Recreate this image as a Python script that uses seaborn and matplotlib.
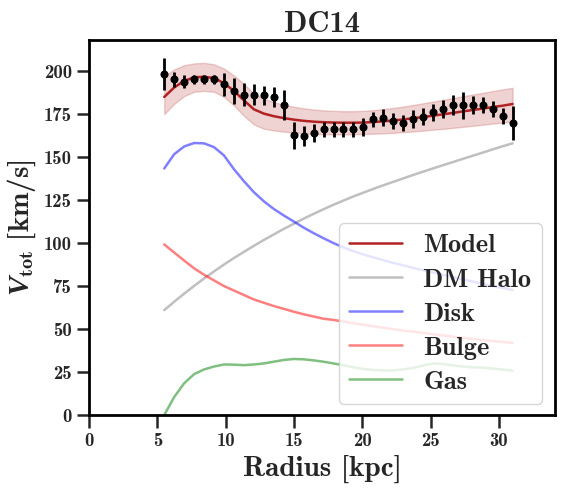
import numpy as np
import pandas as pd
import matplotlib
matplotlib.use('Agg')
import matplotlib.pyplot as plt
import seaborn as sns

radius = [5.50, 6.23, 6.96, 7.69, 8.41, 9.14, 9.87, 10.60, 11.33, 12.06,
          12.79, 13.51, 14.24, 14.97, 15.70, 16.43, 17.16, 17.89, 18.61, 19.34,
          20.07, 20.80, 21.53, 22.26, 22.99, 23.71, 24.44, 25.17, 25.90, 26.63,
          27.36, 28.09, 28.81, 29.54, 30.27, 31.00]
v_obs = [198.3, 195.3, 193.8, 195.2, 195.2, 195.2, 192.3, 188.4, 186.4, 186.4,
         186.0, 185.0, 180.2, 162.8, 162.4, 163.8, 166.1, 166.1, 166.1, 166.1,
         167.6, 171.9, 173.0, 171.1, 169.9, 172.1, 173.4, 176.0, 177.9, 180.2,
         180.2, 180.2, 180.2, 177.9, 173.8, 170.0]
v_err = [9.5, 4.4, 3.9, 2.6, 2.6, 2.6, 6.8, 7.6, 6.6, 6.0,
         5.6, 6.0, 8.7, 7.8, 5.8, 5.3, 4.5, 4.5, 4.5, 4.5,
         5.3, 4.5, 4.8, 4.6, 4.7, 5.3, 5.0, 5.0, 5.3, 5.8,
         7.8, 5.3, 4.8, 4.8, 4.6, 10.0]

# Best-fit model and its uncertainty band
v_model = [185.0, 190.5, 194.3, 196.4, 196.7, 196.0, 193.0, 188.5, 183.0, 177.8,
           175.3, 173.8, 172.7, 171.8, 171.1, 170.6, 170.3, 170.1, 170.0, 170.0,
           170.1, 170.4, 170.8, 171.3, 171.9, 172.6, 173.3, 174.1, 174.9, 175.7,
           176.6, 177.4, 178.2, 179.1, 179.9, 180.9]
v_upper = [197.0, 201.0, 203.5, 204.5, 204.8, 204.0, 201.5, 197.5, 192.5, 187.0,
           184.0, 182.0, 180.5, 179.3, 178.4, 177.7, 177.2, 176.9, 176.7, 176.7,
           176.9, 177.3, 177.9, 178.6, 179.4, 180.3, 181.3, 182.3, 183.3, 184.3,
           185.4, 186.4, 187.4, 188.4, 189.4, 190.3]
v_lower = [175.0, 181.0, 185.5, 188.0, 188.5, 188.0, 185.0, 180.0, 174.0, 169.0,
           166.5, 165.5, 164.8, 164.3, 163.8, 163.5, 163.3, 163.2, 163.2, 163.3,
           163.4, 163.6, 163.8, 164.1, 164.5, 164.9, 165.4, 165.9, 166.4, 167.0,
           167.6, 168.2, 168.8, 169.5, 170.1, 170.7]

# Components
v_halo = [61.0, 65.9, 70.6, 75.1, 79.4, 83.5, 87.5, 91.3, 94.9, 98.4,
          101.8, 105.0, 108.2, 111.2, 114.2, 117.0, 119.7, 122.3, 124.7, 127.1,
          129.3, 131.5, 133.6, 135.6, 137.6, 139.6, 141.5, 143.4, 145.3, 147.1,
          149.0, 150.8, 152.6, 154.5, 156.3, 158.0]
v_disk = [143.4, 151.7, 156.2, 158.2, 158.0, 155.8, 151.0, 143.0, 136.0, 129.6,
          124.3, 119.9, 116.1, 112.6, 109.0, 105.8, 102.8, 100.0, 97.5, 95.3,
          93.4, 91.7, 90.1, 88.5, 87.0, 85.6, 84.2, 82.9, 81.5, 80.2,
          78.9, 77.6, 76.3, 75.0, 73.9, 72.7]
v_bulge = [99.2, 94.5, 89.8, 85.3, 81.6, 78.3, 75.0, 72.4, 69.8, 67.2,
           65.3, 63.4, 61.8, 60.1, 58.6, 57.3, 56.0, 55.3, 54.4, 53.4,
           52.5, 51.6, 50.8, 49.9, 49.1, 48.5, 47.8, 47.0, 46.3, 45.6,
           44.9, 44.3, 43.6, 43.0, 42.5, 42.0]
v_gas = [0.0, 10.5, 18.5, 23.8, 26.5, 28.2, 29.4, 29.3, 29.0, 29.4,
         30.0, 31.0, 32.0, 32.6, 32.4, 31.8, 31.0, 30.0, 29.0, 27.8,
         26.8, 26.2, 25.9, 25.9, 26.5, 27.4, 28.8, 30.0, 29.7, 28.9,
         28.2, 27.8, 27.5, 27.0, 26.5, 25.8]

df = pd.DataFrame({'R': radius, 'Model': v_model, 'DM Halo': v_halo,
                   'Disk': v_disk, 'Bulge': v_bulge, 'Gas': v_gas})

sns.set_theme(style='ticks')
plt.rcParams['font.family'] = ['cmb10', 'DejaVu Serif']
plt.rcParams['mathtext.fontset'] = 'custom'
plt.rcParams['mathtext.rm'] = 'cmb10'
plt.rcParams['mathtext.bf'] = 'cmb10'
plt.rcParams['mathtext.it'] = 'Liberation Serif:italic:bold'
plt.rcParams['axes.unicode_minus'] = False

fig = plt.figure(figsize=(5.64, 4.9), dpi=100)
ax = fig.add_axes([0.158, 0.153, 0.826, 0.765])

ax.fill_between(df['R'], v_lower, v_upper, color='firebrick', alpha=0.2)
sns.lineplot(data=df, x='R', y='Model', color='firebrick', lw=1.8, ax=ax, label='Model')
sns.lineplot(data=df, x='R', y='DM Halo', color='gray', alpha=0.5, lw=1.8, ax=ax, label='DM Halo')
sns.lineplot(data=df, x='R', y='Disk', color='blue', alpha=0.5, lw=1.8, ax=ax, label='Disk')
sns.lineplot(data=df, x='R', y='Bulge', color='red', alpha=0.5, lw=1.8, ax=ax, label='Bulge')
sns.lineplot(data=df, x='R', y='Gas', color='green', alpha=0.5, lw=1.8, ax=ax, label='Gas')
ax.errorbar(radius, v_obs, yerr=v_err, fmt='o', color='black', ms=4.8,
            elinewidth=2, capsize=0, zorder=5)

ax.set_xlim(0, 1.1 * max(radius))
ax.set_ylim(0, 218)
ax.set_xticks([0, 5, 10, 15, 20, 25, 30])
ax.set_yticks([0, 25, 50, 75, 100, 125, 150, 175, 200])
ax.tick_params(axis='both', which='major', labelsize=13.5, length=9, width=1.8, direction='out')
for s in ax.spines.values():
    s.set_linewidth(2)
    s.set_color('black')

ax.set_xlabel('Radius [kpc]', fontsize=21, labelpad=3)
ax.set_ylabel(r'$V_{\mathrm{tot}}$ [km/s]', fontsize=21, labelpad=4)
ax.set_title('DC14', fontsize=22)
ax.legend(loc='lower right', bbox_to_anchor=(0.972, 0.029), borderaxespad=0,
          fontsize=19, frameon=True, labelspacing=0.4, handlelength=2.0)

fig.savefig('out.png', dpi=100)
